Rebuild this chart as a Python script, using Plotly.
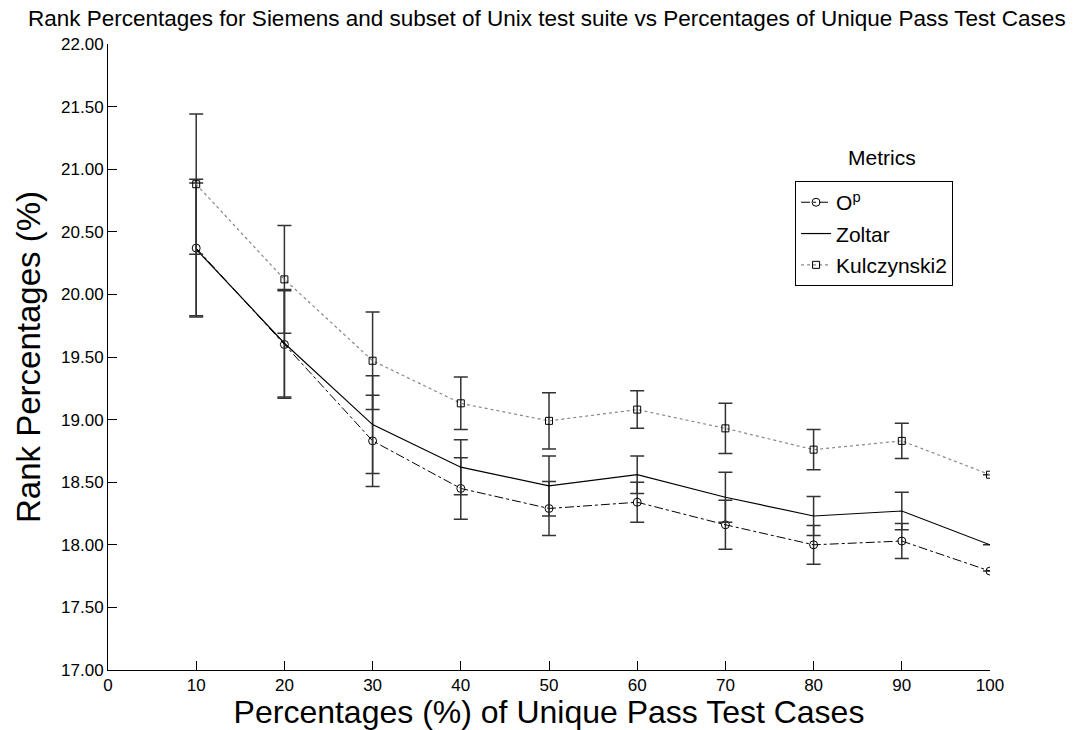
import plotly.graph_objects as go

# ---- data ----
pct = [10, 20, 30, 40, 50, 60, 70, 80, 90, 100]

op_vals = [20.37, 19.60, 18.83, 18.45, 18.29, 18.34, 18.16, 18.00, 18.03, 17.79]
op_err = [0.55, 0.43, 0.365, 0.245, 0.215, 0.16, 0.195, 0.155, 0.14, 0.0]

zoltar_vals = [20.36, 19.61, 18.96, 18.62, 18.47, 18.56, 18.38, 18.23, 18.27, 18.00]
zoltar_err = [0.53, 0.43, 0.39, 0.22, 0.24, 0.15, 0.20, 0.155, 0.15, 0.0]

kulc_vals = [20.88, 20.12, 19.47, 19.13, 18.99, 19.08, 18.93, 18.76, 18.83, 18.56]
kulc_err = [0.56, 0.43, 0.39, 0.21, 0.225, 0.15, 0.20, 0.16, 0.14, 0.0]

series_names = ["O<sup>p</sup>", "Zoltar", "Kulczynski2"]

title_text = "Rank Percentages for Siemens and subset of Unix test suite vs Percentages of Unique Pass Test Cases"
x_title = "Percentages (%) of Unique Pass Test Cases"
y_title = "Rank Percentages (%)"
legend_title = "Metrics"

FONT = "Liberation Sans, Arial, Helvetica, sans-serif"
ERR_COLOR = "#333333"

fig = go.Figure()

fig.add_trace(go.Scatter(
    x=pct, y=op_vals, name=series_names[0], mode="lines+markers",
    line=dict(color="black", width=1, dash="dashdot"),
    marker=dict(symbol="circle-open", size=8, color="black", line=dict(width=1)),
    error_y=dict(type="data", array=op_err, visible=True, color=ERR_COLOR, thickness=1.5, width=7),
    legendgroup="a",
))
fig.add_trace(go.Scatter(
    x=pct, y=zoltar_vals, name=series_names[1], mode="lines",
    line=dict(color="black", width=1.2),
    error_y=dict(type="data", array=zoltar_err, visible=True, color=ERR_COLOR, thickness=1.5, width=7),
    legendgroup="b",
))
fig.add_trace(go.Scatter(
    x=pct, y=kulc_vals, name=series_names[2], mode="lines+markers",
    line=dict(color="#888888", width=1.2, dash="dot"),
    marker=dict(symbol="square-open", size=7, color="black", line=dict(width=1)),
    error_y=dict(type="data", array=kulc_err, visible=True, color=ERR_COLOR, thickness=1.5, width=7),
    legendgroup="c",
))

fig.update_layout(
    width=1073, height=730,
    margin=dict(l=108, r=83, t=44, b=60),
    paper_bgcolor="white", plot_bgcolor="white",
    font=dict(family=FONT, color="black", size=16),
    showlegend=True,
    legend=dict(
        x=0.779, y=0.781, xanchor="left", yanchor="top",
        bordercolor="black", borderwidth=1, bgcolor="white",
        font=dict(size=21, family=FONT),
        traceorder="grouped", tracegroupgap=1,
    ),
    annotations=[
        dict(text=title_text, xref="paper", yref="paper", x=0.498, y=1.0, yshift=26,
             xanchor="center", yanchor="middle", showarrow=False,
             font=dict(size=22.5, family=FONT)),
        dict(text=legend_title, xref="paper", yref="paper", x=0.878, y=0.819,
             xanchor="center", yanchor="middle", showarrow=False,
             font=dict(size=21, family=FONT)),
    ],
)

fig.update_xaxes(
    range=[0, 100], tick0=0, dtick=10, ticks="inside", ticklen=9, tickcolor="black",
    showline=True, linecolor="black", linewidth=1, showgrid=False, zeroline=False,
    automargin=False,
    tickfont=dict(size=17), title=dict(text=x_title, font=dict(size=32), standoff=5),
)
fig.update_yaxes(
    range=[17, 22], tick0=17, dtick=0.5, tickformat=".2f", ticks="inside", ticklen=9,
    tickcolor="black", showline=True, linecolor="black", linewidth=1, showgrid=False,
    zeroline=False, automargin=False,
    tickfont=dict(size=17), title=dict(text=y_title, font=dict(size=33), standoff=10),
)

fig.write_html("out.html")
